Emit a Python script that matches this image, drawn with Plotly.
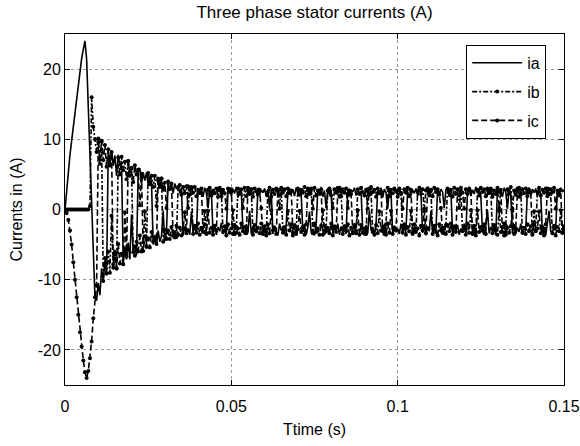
import plotly.graph_objects as go

# Sampling interval of the recorded currents (s)
DT = 0.0005

# Phase currents (A), one sample every DT
ia = [
    0, 3.0, 5.5, 7.8, 9.8, 11.8, 13.5, 15.5, 17.5, 19.8, 21.5, 22.8, 24.0, 21.4, 14.9, 7.9, 0.0, -6.2, -12.5,
    -13.0, -10.5, -12.2, -8.4, -10.1, -7.3, -9.4,
    8.4, 6.0, 8.4, 6.2, 7.7, 4.8, 7.8, 6.2, 6.8,
    -7.8, -5.3, -7.1, -4.7, -7.1, -0.7, -6.1, -5.0, -6.5,
    5.4, 5.9, 3.7, 5.3, 4.1, 5.3, 3.6, 4.8, 4.0,
    -5.0, -3.6, -5.1, -3.0, -4.6, -3.8, -0.2, -4.5, -3.3,
    4.0, 2.7, 3.7, 2.3, 3.7, 2.9, 3.4, 2.3, 3.1,
    -3.7, -2.4, -3.4, -2.7, -3.6, -0.3, -3.2, -2.1, -3.4,
    3.0, 2.1, 2.9, 1.8, 3.1, 2.4, 0.2, 2.8, 2.6,
    -3.4, -2.2, -3.6, -2.5, -3.1, -1.9, -3.5, -2.7, -3.2,
    2.7, 3.1, 1.9, 2.9, 2.3, 3.2, 1.7, 2.8, 2.5,
    -3.0, -3.6, -2.1, -3.3, -0.2, -3.5, -2.4, -3.1, -2.6,
    3.1, 2.0, 2.8, 2.4, 3.0, 1.8, 2.9, 0.1, 2.7,
    -3.5, -2.3, -3.2, -3.7, -2.0, -3.0, -2.6, -3.4, -2.2,
    2.6, 3.0, 2.2, 2.9, 1.9, 3.1, 2.4, 2.8, 2.1,
    -3.2, -2.1, -3.6, -2.5, -0.3, -3.3, -2.8, -3.7, -2.3,
    2.9, 2.3, 3.2, 1.8, 2.7, 0.2, 3.0, 2.1, 2.8,
    -3.4, -2.6, -3.1, -2.0, -3.6, -2.4, -3.3, -2.2, -3.5,
    3.0, 1.9, 2.8, 2.5, 3.1, 2.0, 2.9, 2.3, 2.6,
    -3.1, -3.7, -2.2, -3.4, -0.1, -3.0, -2.5, -3.6, -2.1,
    2.8, 2.2, 3.1, 1.7, 2.9, 2.4, 0.1, 3.0, 2.5,
    -3.6, -2.3, -3.2, -2.7, -3.5, -2.0, -3.3, -2.5, -3.0,
    2.7, 3.2, 2.0, 2.8, 2.3, 3.0, 1.9, 2.9, 2.4,
    -3.3, -2.1, -3.7, -2.4, -3.1, -0.2, -3.4, -2.6, -3.2,
    3.1, 2.1, 2.9, 2.5, 0.2, 2.8, 3.0, 1.8, 2.7,
    -3.5, -2.4, -3.0, -2.2, -3.6, -2.7, -3.3, -2.0, -3.4,
    2.6, 3.0, 1.9, 2.8, 2.2, 3.2, 2.4, 2.9, 2.0,
    -3.2, -3.6, -2.3, -0.1, -3.4, -2.5, -3.1, -2.2, -3.7,
    3.0, 2.3, 2.7, 1.8, 3.1, 2.5, 0.1, 2.9, 2.2,
    -3.4, -2.1, -3.5, -2.6, -3.2, -2.0, -3.6, -2.4, -3.0,
    2.8, 3.1, 2.0, 2.9, 2.4, 3.0, 1.9, 2.7, 2.3,
    -3.3, -2.5, -3.7, -2.2, -0.2, -3.1, -3.4, -2.3, -3.0,
    2.9, 2.1, 3.1, 2.5, 2.8,
]

ib = [
    0, 0, 0, 0, 0, 0, 0, 0, 0, 0, 0, 0, 0, 0, 0,
    0.5, 16.0, 11.8, 10.0, 8.2, 10.1, 7.2, 9.7,
    -10.2, -6.9, -9.1, -6.0, -9.0, -0.9, -7.8, -6.4, -8.4,
    7.4, 5.0, 7.5, 5.6, 6.8, 4.3, 6.9, 5.4, 5.9,
    -6.1, -6.6, -4.6, -6.0, -3.7, -6.0, -4.7, -0.3, -5.3,
    5.2, 3.6, 4.8, 3.2, 4.8, 0.5, 4.1, 3.4, 4.4,
    -4.6, -2.9, -4.2, -3.0, -4.2, -2.5, -3.7, -3.2, -3.9,
    3.2, 3.5, 2.1, 3.2, 2.3, 3.3, 0.2, 2.8, 3.2,
    -3.5, -2.3, -3.3, -2.0, -3.6, -2.6, -3.1, -0.2, -3.4,
    2.8, 3.1, 2.0, 2.7, 2.3, 3.0, 1.8, 2.9, 2.4,
    -3.2, -2.4, -3.7, -2.1, -3.3, -2.7, -0.1, -3.5, -2.5,
    3.0, 2.2, 2.9, 0.2, 3.1, 1.9, 2.7, 2.4, 2.9,
    -3.6, -2.2, -3.1, -2.6, -3.4, -2.0, -3.5, -2.8, -3.2,
    2.5, 3.1, 1.8, 2.8, 2.2, 3.0, 2.6, 0.1, 2.9,
    -3.3, -2.5, -3.6, -0.2, -3.0, -2.1, -3.7, -2.4, -3.2,
    3.0, 2.1, 2.8, 2.4, 3.2, 1.9, 2.7, 2.2, 3.0,
    -3.4, -2.0, -3.2, -2.7, -3.6, -2.3, -0.1, -3.3, -2.6,
    2.7, 3.0, 2.0, 0.2, 2.9, 2.4, 3.1, 1.8, 2.6,
    -3.5, -2.4, -3.1, -2.1, -3.7, -2.6, -3.2, -2.2, -3.4,
    2.9, 2.2, 3.1, 2.5, 2.0, 2.8, 0.1, 3.0, 2.3,
    -3.2, -3.6, -2.2, -3.4, -0.3, -3.0, -2.5, -3.5, -2.1,
    3.1, 1.9, 2.8, 2.3, 3.0, 2.6, 1.8, 2.9, 2.4,
    -3.3, -2.1, -3.6, -2.5, -3.1, -0.2, -3.4, -2.7, -3.0,
    2.6, 3.1, 2.2, 2.9, 0.1, 2.7, 3.0, 2.0, 2.8,
    -3.5, -2.3, -3.2, -3.7, -2.1, -3.0, -2.6, -3.4, -2.2,
    3.0, 2.4, 2.8, 1.8, 3.1, 2.2, 2.9, 0.2, 2.6,
    -3.1, -2.5, -3.6, -2.0, -3.3, -0.1, -3.5, -2.4, -3.2,
    2.8, 2.0, 3.1, 2.5, 2.9, 1.9, 3.0, 2.3, 2.7,
    -3.4, -2.2, -3.0, -3.6, -0.2, -3.2, -2.5, -3.7, -2.3,
    2.9, 2.3, 3.2, 0.1, 2.7, 2.1, 3.0, 1.8, 2.8,
    -3.3, -2.6, -3.5, -2.1, -3.1, -2.4, -3.6, -0.3, -3.0,
    2.5, 3.1, 2.0, 2.8, 2.4, 3.0, 1.9, 2.9, 2.2,
    -3.4, -2.3, -3.7, -2.5, -3.1, -0.1, -3.3, -2.6,
]

ic = [
    0, -0.5, -1.5, -3.0, -5.0, -7.5, -10.0, -12.5, -15.0, -17.5, -19.5, -21.5, -23.2, -24.0, -23.0,
    -21.2, -18.8, -15.5, -12.5, -10.8,
    9.6, 6.5, 9.8, 7.0, 9.2, 6.1, 8.6, 6.3, 8.2,
    -8.3, -6.0, -8.4, -4.9, -7.7, -6.3, -7.8, -0.4, -6.7,
    6.9, 4.8, 5.9, 3.9, 6.3, 5.0, 5.7, 0.6, 5.1,
    -5.9, -3.8, -5.3, -4.1, -5.4, -3.2, -4.6, -4.0, -4.9,
    4.4, 3.2, 4.4, 2.8, 3.8, 0.2, 4.0, 2.9, 3.7,
    -3.7, -4.0, -2.3, -3.6, -2.6, -3.7, -2.9, -0.4, -3.4,
    3.3, 2.1, 3.0, 2.4, 3.2, 1.9, 2.8, 2.4, 3.0,
    -3.2, -2.1, -3.5, -0.2, -3.3, -2.6, -3.6, -2.3, -3.0,
    2.7, 3.1, 1.9, 2.8, 2.3, 0.1, 3.0, 2.5, 2.9,
    -3.5, -2.2, -3.3, -2.7, -3.6, -2.0, -3.1, -2.5, -3.4,
    3.1, 2.2, 2.9, 1.8, 3.0, 2.6, 2.1, 2.8, 0.2,
    -3.2, -2.4, -3.7, -2.1, -3.4, -0.1, -3.0, -2.6, -3.5,
    2.8, 2.0, 3.1, 2.4, 2.9, 1.9, 3.0, 2.3, 2.7,
    -3.3, -2.2, -3.5, -2.8, -0.2, -3.2, -2.5, -3.6, -2.1,
    3.0, 2.4, 2.8, 0.1, 3.1, 2.0, 2.7, 2.2, 2.9,
    -3.6, -2.3, -3.1, -2.6, -3.4, -2.0, -3.7, -2.4, -3.2,
    2.6, 3.1, 1.9, 2.9, 2.4, 3.0, 0.2, 2.7, 2.2,
    -3.4, -2.5, -3.0, -0.1, -3.6, -2.2, -3.3, -2.7, -3.5,
    2.9, 2.1, 3.2, 2.5, 2.8, 1.8, 3.0, 2.3, 2.6,
    -3.1, -2.4, -3.6, -2.0, -3.3, -0.2, -3.5, -2.6, -3.0,
    2.7, 3.0, 2.2, 0.1, 2.9, 2.4, 3.1, 1.9, 2.8,
    -3.5, -2.1, -3.2, -2.7, -3.7, -2.3, -3.0, -0.2, -3.4,
    3.0, 2.3, 2.7, 1.9, 3.1, 2.5, 2.9, 2.1, 0.2,
    -3.3, -2.6, -3.5, -2.2, -3.1, -2.0, -3.6, -2.4, -3.2,
    2.8, 2.0, 3.1, 2.4, 0.1, 2.9, 2.2, 3.0, 2.6,
    -3.4, -2.3, -3.7, -0.1, -3.2, -2.5, -3.0, -2.1, -3.5,
    2.9, 2.4, 3.0, 1.8, 2.7, 2.2, 3.1, 0.2, 2.8,
    -3.2, -2.0, -3.6, -2.6, -3.3, -2.4, -0.2, -3.5, -2.7,
    2.6, 3.1, 2.1, 2.9, 2.3, 3.0, 1.9, 2.8, 2.4,
    -3.5, -2.2, -3.1, -2.7, -0.3, -3.4, -2.5, -3.7, -2.1,
    3.0, 2.2, 2.9, 2.5, 3.1, 0.1, 2.7, 2.0, 2.8,
    -3.3, -2.4,
]

SERIES_NAMES = ["ia", "ib", "ic"]
X_TICKS = [0, 0.05, 0.1, 0.15]
X_TICK_LABELS = ["0", "0.05", "0.1", "0.15"]
Y_TICKS = [-20, -10, 0, 10, 20]
Y_TICK_LABELS = ["-20", "-10", "0", "10", "20"]


def times(values):
    return [i * DT for i in range(len(values))]


FONT = "Liberation Sans, Arial, sans-serif"

fig = go.Figure()
fig.add_trace(go.Scatter(
    x=times(ia), y=ia, name=SERIES_NAMES[0], mode="lines", legendgroup="a",
    line=dict(color="black", width=1.6),
))
fig.add_trace(go.Scatter(
    x=times(ib), y=ib, name=SERIES_NAMES[1], mode="lines+markers", legendgroup="b",
    line=dict(color="black", width=1.6, dash="5px,2px,2px,2px"),
    marker=dict(color="black", size=4),
))
fig.add_trace(go.Scatter(
    x=times(ic), y=ic, name=SERIES_NAMES[2], mode="lines+markers", legendgroup="c",
    line=dict(color="black", width=1.6, dash="6px,3px"),
    marker=dict(color="black", size=4),
))

axis_common = dict(
    showline=True, linecolor="black", linewidth=1, mirror="ticks",
    ticks="inside", ticklen=5, tickcolor="black", tickwidth=1,
    showgrid=True, gridcolor="#9a9a9a", gridwidth=1, griddash="dot",
    zeroline=False, automargin=False,
    tickfont=dict(family=FONT, size=16, color="black"),
)

fig.update_xaxes(
    range=[0, 0.15], tickvals=X_TICKS, ticktext=X_TICK_LABELS,
    ticklabelstandoff=7,
    title=dict(text="Ttime (s)", font=dict(family=FONT, size=16, color="black"), standoff=9),
    **axis_common,
)
fig.update_yaxes(
    range=[-25, 25], tickvals=Y_TICKS, ticktext=Y_TICK_LABELS,
    title=dict(text="Currents in (A)", font=dict(family=FONT, size=16, color="black"), standoff=11),
    **axis_common,
)

fig.update_layout(
    width=580, height=446,
    margin=dict(l=65, r=16, t=34, b=61),
    paper_bgcolor="white", plot_bgcolor="white",
    title=dict(text="Three phase stator currents (A)", x=0.5, xref="paper",
               y=1 - 12 / 446, yref="container", yanchor="middle",
               font=dict(family=FONT, size=17, color="black")),
    showlegend=True,
    legend=dict(
        x=0.804, y=0.969, xanchor="left", yanchor="top",
        bgcolor="white", bordercolor="black", borderwidth=1,
        font=dict(family=FONT, size=16, color="black"),
        itemwidth=50, tracegroupgap=5,
    ),
)

# Remove the page's default body margin so the figure sits at the window origin
fig.write_html(
    "out.html",
    config={"displayModeBar": False},
    post_script="document.body.style.margin='0px';",
)
